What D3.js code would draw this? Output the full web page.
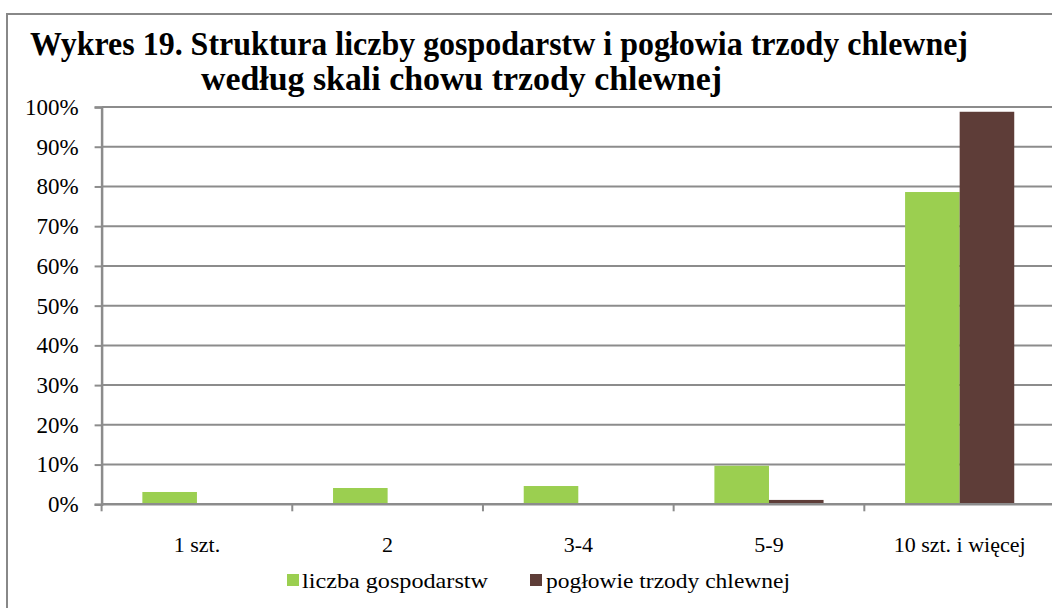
<!DOCTYPE html>
<html>
<head>
<meta charset="utf-8">
<script src="https://cdn.jsdelivr.net/npm/d3@7"></script>
<style>
  body { margin: 0; background: #fff; }
  svg { display: block; }
  text { font-family: "Times New Roman", "Liberation Serif", Tinos, serif; fill: #000; }
</style>
</head>
<body>
<svg id="chart" width="1052" height="608"></svg>
<script>
// values (percent)
var categories = ["1 szt.", "2", "3-4", "5-9", "10 szt. i więcej"];
var seriesNames = ["liczba gospodarstw", "pogłowie trzody chlewnej"];
var gospodarstwa = [3.1, 4.1, 4.6, 9.7, 78.6];
var poglowie = [0, 0, 0, 1.1, 98.8];
var yTicks = [0, 10, 20, 30, 40, 50, 60, 70, 80, 90, 100];
var colors = ["#9BCF50", "#5E3D38"];

var svg = d3.select("#chart");
var gridColor = "#8c8c8c";

// outer frame (cut off on right and bottom)
svg.append("rect")
	.attr("x", 7).attr("y", 14)
	.attr("width", 1100).attr("height", 700)
	.attr("fill", "none")
	.attr("stroke", "#888")
	.attr("stroke-width", 2);

// title
svg.append("text")
	.attr("x", 30).attr("y", 55)
	.attr("font-size", 33).attr("font-weight", "bold")
	.attr("textLength", 938).attr("lengthAdjust", "spacingAndGlyphs")
	.text("Wykres 19. Struktura liczby gospodarstw i pogłowia trzody chlewnej");
svg.append("text")
	.attr("x", 201).attr("y", 90)
	.attr("font-size", 33).attr("font-weight", "bold")
	.attr("textLength", 521).attr("lengthAdjust", "spacingAndGlyphs")
	.text("według skali chowu trzody chlewnej");

var plotLeft = 101.6, plotRight = 1055, plotTop = 107, plotBottom = 504.3;

var x = d3.scaleBand()
	.domain(categories)
	.range([plotLeft, plotRight])
	.paddingInner(0.4275)
	.paddingOuter(0.21375);

var x1 = d3.scaleBand()
	.domain(seriesNames)
	.range([0, x.bandwidth()]);

var y = d3.scaleLinear().domain([0, 100]).range([plotBottom, plotTop]);

// gridlines
svg.append("g").selectAll("line")
	.data(yTicks.filter(function(d) { return d > 0; }))
	.enter().append("line")
	.attr("x1", plotLeft).attr("x2", 1052)
	.attr("y1", function(d) { return y(d); })
	.attr("y2", function(d) { return y(d); })
	.attr("stroke", gridColor).attr("stroke-width", 2);

// bars
var rows = categories.map(function(c, i) {
	return { cat: c, vals: [gospodarstwa[i], poglowie[i]] };
});

var groups = svg.append("g").selectAll("g")
	.data(rows)
	.enter().append("g")
	.attr("transform", function(d) { return "translate(" + x(d.cat) + ",0)"; });

groups.selectAll("rect")
	.data(function(d) { return d.vals.map(function(v, j) { return { name: seriesNames[j], v: v, j: j }; }); })
	.enter().append("rect")
	.attr("x", function(d) { return x1(d.name); })
	.attr("width", x1.bandwidth())
	.attr("y", function(d) { return y(d.v); })
	.attr("height", function(d) { return plotBottom - y(d.v); })
	.attr("fill", function(d) { return colors[d.j]; });

// y axis
var yAxis = d3.axisLeft(y)
	.tickValues(yTicks)
	.tickSize(7)
	.tickPadding(16)
	.tickFormat(function(d) { return d + "%"; });

var gy = svg.append("g")
	.attr("transform", "translate(" + plotLeft + ",0)")
	.call(yAxis);
gy.select(".domain").attr("stroke", gridColor).attr("stroke-width", 2.5);
gy.selectAll(".tick line").attr("stroke", gridColor).attr("stroke-width", 2);
gy.selectAll(".tick text")
	.attr("font-family", "Times New Roman, Liberation Serif, serif")
	.attr("font-size", 23).attr("fill", "#000");

// x axis
var gx = svg.append("g")
	.attr("transform", "translate(0," + plotBottom + ")");
gx.append("line")
	.attr("x1", plotLeft).attr("x2", 1052)
	.attr("stroke", gridColor).attr("stroke-width", 2.5);
var boundaries = categories.map(function(c) { return x(c) - x.step() * x.paddingInner() / 2; });
gx.selectAll(".xt")
	.data(boundaries)
	.enter().append("line")
	.attr("class", "xt")
	.attr("x1", function(d) { return d; }).attr("x2", function(d) { return d; })
	.attr("y1", 0).attr("y2", 7)
	.attr("stroke", gridColor).attr("stroke-width", 2);
gx.selectAll(".xl")
	.data(categories)
	.enter().append("text")
	.attr("class", "xl")
	.attr("x", function(d) { return x(d) + x.bandwidth() / 2; })
	.attr("y", 48)
	.attr("text-anchor", "middle")
	.attr("font-size", 22)
	.text(function(d) { return d; });

// legend
var legendItems = [
	{ name: seriesNames[0], color: colors[0], sx: 287, tx: 302, w: 186 },
	{ name: seriesNames[1], color: colors[1], sx: 530, tx: 546, w: 244 }
];
var lg = svg.append("g").selectAll("g")
	.data(legendItems)
	.enter().append("g");
lg.append("rect")
	.attr("x", function(d) { return d.sx; })
	.attr("y", 574)
	.attr("width", 12).attr("height", 12)
	.attr("fill", function(d) { return d.color; });
lg.append("text")
	.attr("x", function(d) { return d.tx; })
	.attr("y", 588)
	.attr("font-size", 22)
	.attr("textLength", function(d) { return d.w; })
	.attr("lengthAdjust", "spacingAndGlyphs")
	.text(function(d) { return d.name; });
</script>
</body>
</html>
